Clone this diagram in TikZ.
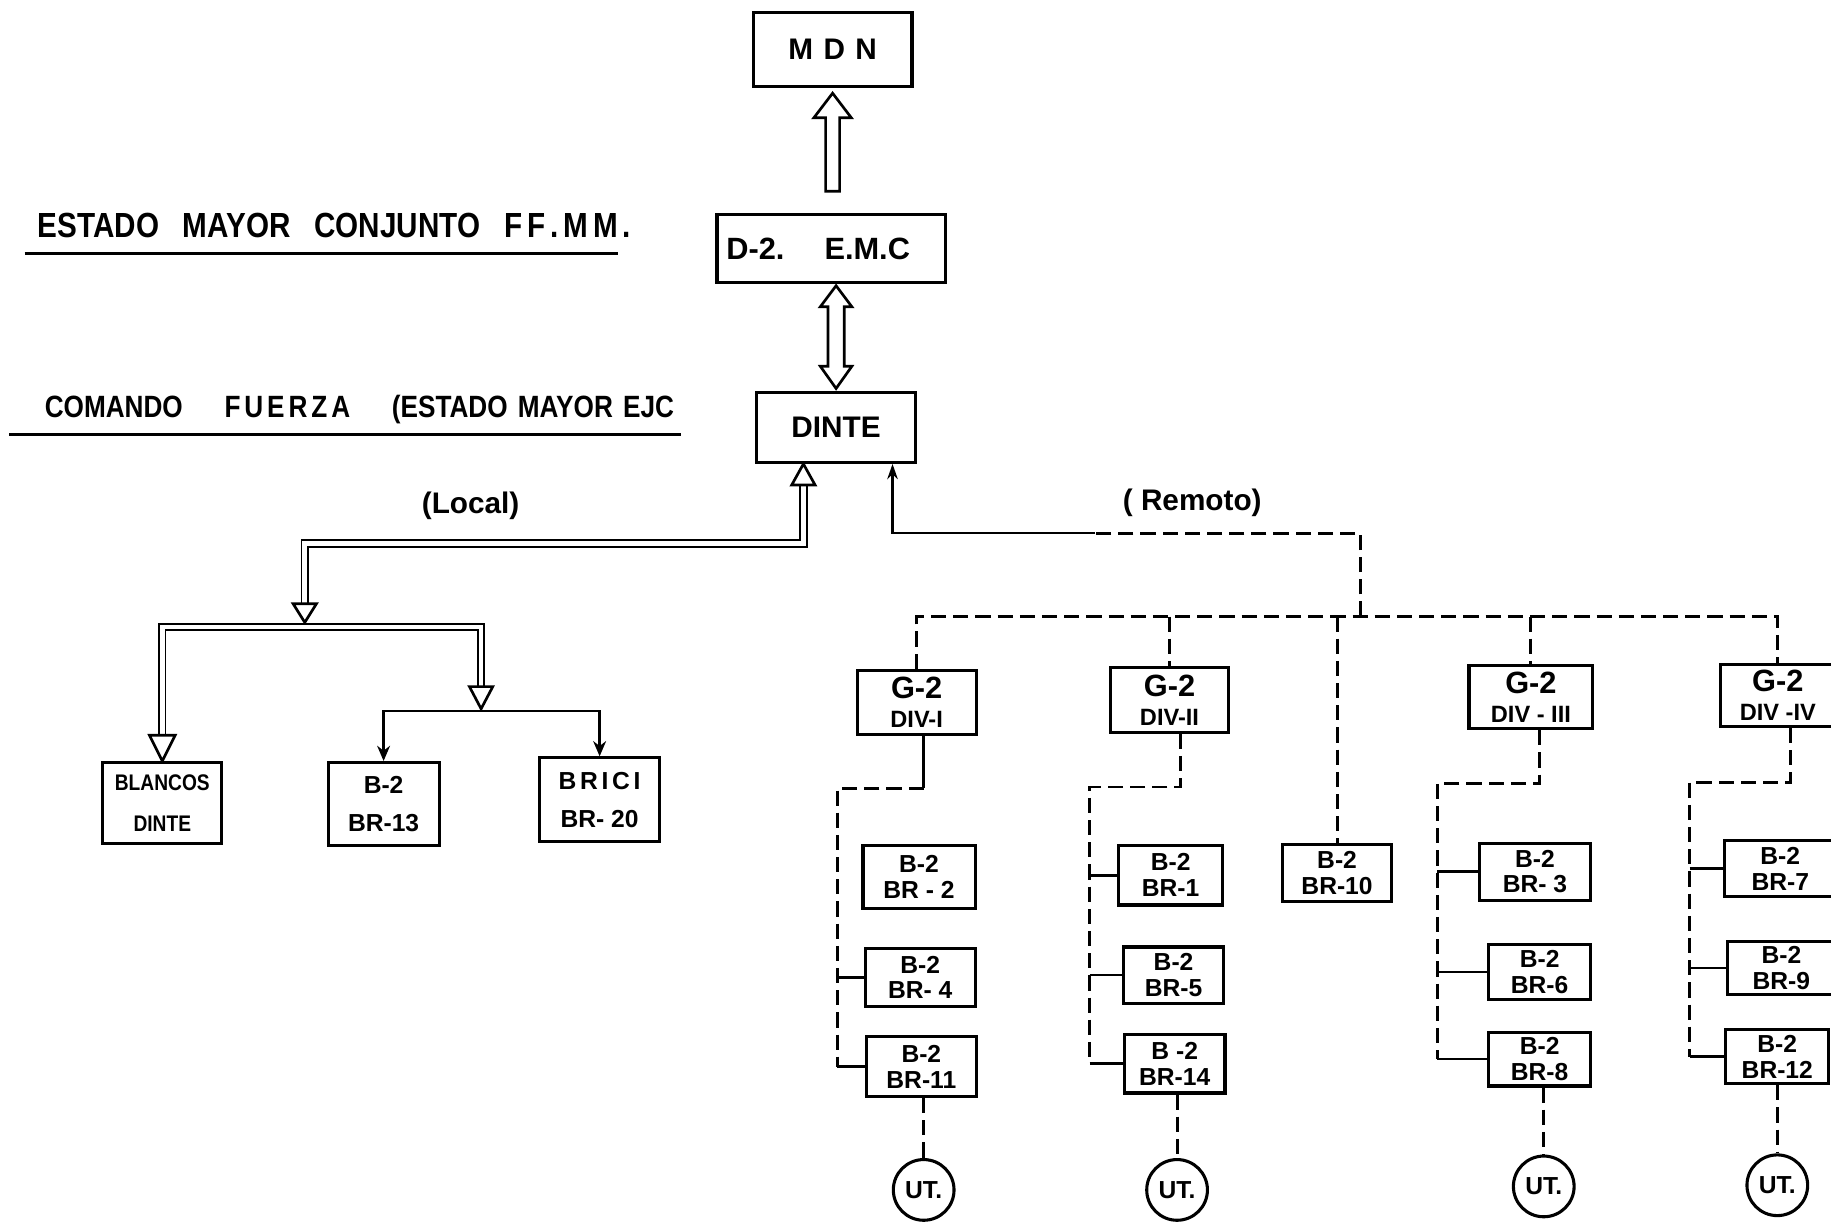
\documentclass[tikz,border=0pt]{standalone}
\usepackage{fontspec}
\setmainfont{Liberation Sans}
\newfontfamily\condf{Liberation Sans}[FakeStretch=0.85]
\usetikzlibrary{arrows.meta}
\newcommand\mybox[7][]{\node[bx,#1,minimum width={(#4-#2)*0.02cm},minimum height={(#5-#3)*0.02cm}] (#6) at ({(#2+#4)/2},{(#3+#5)/2}) {#7};}
\newcommand\ls{\kern2.4pt}
\begin{document}
\begin{tikzpicture}[x=0.02cm,y=-0.02cm,
  bx/.style={draw,line width=1.5pt,inner sep=0pt,align=center,font=\bfseries\fontsize{12}{12.5}\selectfont},
  gbox/.style={font=\bfseries\fontsize{11.5}{14}\selectfont},
  lbl/.style={inner sep=0pt,font=\bfseries\fontsize{14.5}{14.5}\selectfont},
  hdr/.style={inner sep=0pt,anchor=west,align=left},
  ul/.style={line width=1.3pt},
  ln/.style={line width=1.3pt},
  dsh/.style={line width=1.4pt,dash pattern=on 0.26cm off 0.12cm},
  dbl/.style={double,double distance=0.08cm,line width=0.9pt},
  hol/.style={draw,line width=1.3pt,fill=white,line join=miter},
  ut/.style={draw,circle,line width=1.5pt,minimum size=1.04cm,inner sep=0pt,font=\bfseries\fontsize{12}{12}\selectfont}]
\useasboundingbox (0,0) rectangle (1568,1050);
\fill[white] (0,0) rectangle (1568,1050);
\clip (0,0) rectangle (1568,1050);

% ---------- headers
\node[hdr,text width=10.16cm,font=\condf\bfseries\fontsize{17}{17}\selectfont] (h1) at (32,193) {ESTADO\hfill MAYOR\hfill CONJUNTO\hfill F\ls F\ls .\ls M\ls M\ls .};
\draw[ul] (21,217) -- (529,217);
\node[hdr,text width=10.78cm,font=\condf\bfseries\fontsize{15}{15}\selectfont] (h2) at (38,350.5) {COMANDO\hfill F\kern1.9pt U\kern1.9pt E\kern1.9pt R\kern1.9pt Z\kern1.9pt A\hfill (ESTADO MAYOR EJC};
\draw[ul] (8,372) -- (583,372);

% ---------- top boxes
\mybox[font=\bfseries\fontsize{14.5}{14.5}\selectfont]{645}{11}{781}{74}{mdn}{M\hspace{0.35em}D\hspace{0.35em}N}
\mybox[font=\bfseries\fontsize{15}{15}\selectfont,text width=3.6cm,inner xsep=0.16cm,align=left]{614}{184}{810}{242}{emc}{D-2.\hspace{1.3em}E.M.C}
\mybox[font=\bfseries\fontsize{14.5}{14.5}\selectfont]{648}{336}{784}{396}{dinte}{DINTE}

% fat hollow arrows
\draw[hol,shift={(mdn.south)}] (-6,88.5) -- (-6,25.5) -- (-16,25.5) -- (0,4.5) -- (16,25.5) -- (6,25.5) -- (6,88.5) -- cycle;
\draw[hol,shift={(dinte.north)}] (0,-90) -- (13.5,-72) -- (7,-72) -- (7,-21) -- (13.5,-21) -- (0,-2) -- (-13.5,-21) -- (-7,-21) -- (-7,-72) -- (-13.5,-72) -- cycle;

% ---------- labels
\node[lbl] (loc) at (403,433) {(Local)};
\node[lbl] (rem) at (1021,431) {( Remoto)};

% ---------- local branch
\mybox[font=\condf\bfseries\fontsize{11}{20}\selectfont]{88}{653}{190}{722}{blancos}{BLANCOS\\DINTE}
\mybox[font=\bfseries\fontsize{12}{18.5}\selectfont]{281}{653}{376}{724}{br13}{B-2\\BR-13}
\mybox[font=\bfseries\fontsize{12}{18.5}\selectfont]{462}{649}{565}{721}{brici}{B\hspace{0.15em}R\hspace{0.15em}I\hspace{0.15em}C\hspace{0.15em}I\\BR- 20}

\coordinate (lA) at (261,533);
\coordinate (lB) at (412,607);
\coordinate (lC) at (412,537);
\coordinate (lD) at (412,609);

\draw[dbl] ([xshift=-0.56cm,yshift=-0.36cm]dinte.south) -- ++(0,50) -| ([yshift=0.32cm]lA);
\draw[dbl] ([yshift=0.44cm]blancos.north) |- (lC) -- ([yshift=0.38cm]lB);
\draw[ln,{Stealth[length=0.26cm,width=0.22cm]}-{Stealth[length=0.26cm,width=0.22cm]}] (br13.north) |- (lD) -| (brici.north);

\draw[hol,shift={(dinte.south)}] (-28,0) -- (-38,18) -- (-18,18) -- cycle;
\draw[hol,shift={(lA)}] (0,0) -- (-10,-16) -- (10,-16) -- cycle;
\draw[hol,shift={(lB)}] (0,0) -- (-10,-19) -- (10,-19) -- cycle;
\draw[hol,shift={(blancos.north)}] (0,0) -- (-11,-22) -- (11,-22) -- cycle;

% ---------- remote branch boxes
\mybox[gbox]{734}{574}{836}{629}{div1}{{\fontsize{15}{15}\selectfont G-2}\\DIV-I}
\mybox[gbox]{951}{572}{1052}{627}{div2}{{\fontsize{15}{15}\selectfont G-2}\\DIV-II}
\mybox[gbox]{1258}{570}{1364}{624}{div3}{{\fontsize{15}{15}\selectfont G-2}\\DIV - III}
\mybox[gbox]{1473}{569}{1572}{622}{div4}{{\fontsize{15}{15}\selectfont G-2}\\DIV -IV}

\mybox{739}{724}{835}{778}{br2}{B-2\\BR - 2}
\mybox{741}{812}{835}{862}{br4}{B-2\\BR- 4}
\mybox{742}{888}{836}{939}{br11}{B-2\\BR-11}
\mybox{958}{724}{1047}{775}{br1}{B-2\\BR-1}
\mybox{962}{811}{1048}{859}{br5}{B-2\\BR-5}
\mybox{963}{886}{1049}{936}{br14}{B -2\\BR-14}
\mybox{1098}{723}{1192}{772}{br10}{B-2\\BR-10}
\mybox{1267}{722}{1362}{771}{br3}{B-2\\BR- 3}
\mybox{1275}{809}{1362}{856}{br6}{B-2\\BR-6}
\mybox{1275}{884}{1362}{930}{br8}{B-2\\BR-8}
\mybox{1477}{720}{1572}{768}{br7}{B-2\\BR-7}
\mybox{1479}{806}{1572}{852}{br9}{B-2\\BR-9}
\mybox{1478}{882}{1566}{928}{br12}{B-2\\BR-12}

\node[ut] (u1) at (791,1019) {UT.};
\node[ut] (u2) at (1008,1019) {UT.};
\node[ut] (u3) at (1322,1016) {UT.};
\node[ut] (u4) at (1522,1015) {UT.};

% ---------- remote connectors
\coordinate (rj) at (1165,528);
\coordinate (rc) at (938,456.5);
\coordinate (rx) at ([xshift=-0.42cm]dinte.south east);
\draw[ln,-{Stealth[length=0.26cm,width=0.18cm]}] (rc) -- (rc -| rx) -- (rx);
\draw[dsh] (rj) -- (rj |- rc) -- (rc);
\draw[dsh] (div1.north) -- (div1.north |- rj) -- (div4.north |- rj) -- (div4.north);
\draw[dsh] (rj -| div2.north) -- (div2.north);
\draw[dsh] (rj -| br10.north) -- (br10.north);
\draw[dsh] (rj -| div3.north) -- (div3.north);

% column I
\coordinate (t1) at (791,675); \coordinate (v1) at (717,675);
\draw[ln] (div1.south -| t1) -- (t1);
\draw[dsh] (t1) -- (v1) -- (v1 |- br11.west);
\draw[ln] (v1 |- br11.west) -- (br11.west);
\draw[ln] (v1 |- br4.west) -- (br4.west);
\draw[dsh] (br11.south -| u1) -- (u1.north);

% column II
\coordinate (t2) at (1011,674); \coordinate (v2) at (933,674);
\draw[dsh] (div2.south -| t2) -- (t2) -- (v2) -- (v2 |- br14.west);
\draw[ln] (v2 |- br14.west) -- (br14.west);
\draw[ln] (v2 |- br1.west) -- (br1.west);
\draw[ln] (v2 |- br5.west) -- (br5.west);
\draw[dsh] (br14.south -| u2) -- (u2.north);

% column III
\coordinate (t3) at (1318,671); \coordinate (v3) at (1231,671);
\draw[dsh] (div3.south -| t3) -- (t3) -- (v3) -- (v3 |- br8.west);
\draw[ln] (v3 |- br8.west) -- (br8.west);
\draw[ln] (v3 |- br3.west) -- (br3.west);
\draw[ln] (v3 |- br6.west) -- (br6.west);
\draw[dsh] (br8.south -| u3) -- (u3.north);

% column IV
\coordinate (t4) at (1533,670); \coordinate (v4) at (1447,670);
\draw[dsh] (div4.south -| t4) -- (t4) -- (v4) -- (v4 |- br12.west);
\draw[ln] (v4 |- br12.west) -- (br12.west);
\draw[ln] (v4 |- br7.west) -- (br7.west);
\draw[ln] (v4 |- br9.west) -- (br9.west);
\draw[dsh] (br12.south -| u4) -- (u4.north);
\end{tikzpicture}
\end{document}
